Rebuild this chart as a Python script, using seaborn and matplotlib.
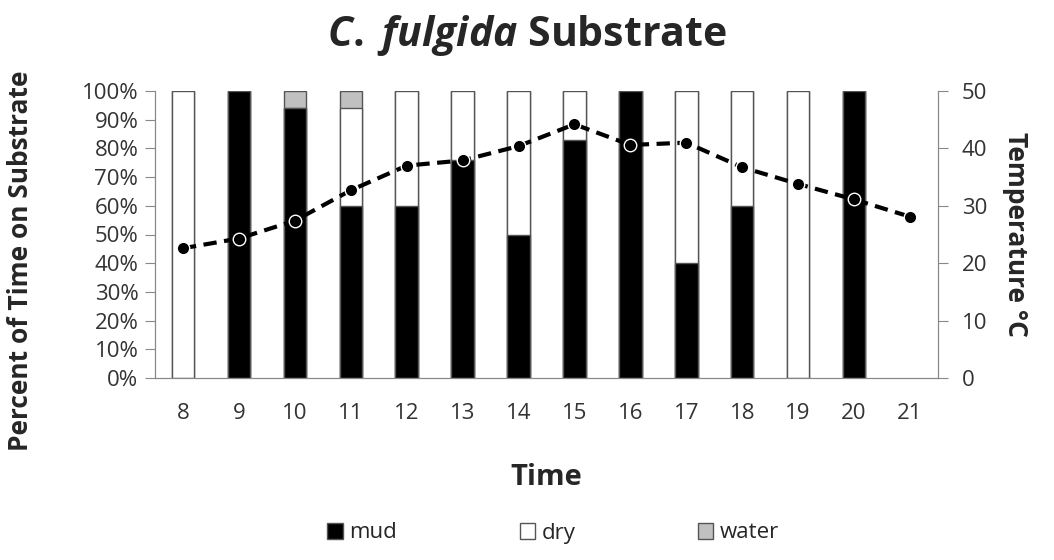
import numpy as np
import pandas as pd
import matplotlib
matplotlib.use("Agg")
import matplotlib.pyplot as plt
from matplotlib.patches import Patch
import seaborn as sns

# data
hours = [8, 9, 10, 11, 12, 13, 14, 15, 16, 17, 18, 19, 20, 21]
mud = [0, 100, 94, 60, 60, 76, 50, 83, 100, 40, 60, 0, 100, 0]
dry = [100, 0, 0, 34, 40, 24, 50, 17, 0, 60, 40, 100, 0, 0]
water = [0, 0, 6, 6, 0, 0, 0, 0, 0, 0, 0, 0, 0, 0]
temp = [22.6, 24.3, 27.4, 32.7, 37.0, 37.9, 40.4, 44.2, 40.6, 41.0, 36.7, 33.8, 31.1, 28.1]

sns.set_style("white")
plt.rcParams['font.family'] = ['Open Sans', 'DejaVu Sans']
plt.rcParams['mathtext.fontset'] = 'custom'
plt.rcParams['mathtext.it'] = 'Open Sans:italic:bold'
plt.rcParams['mathtext.rm'] = 'Open Sans:bold'

df = pd.DataFrame({"hour": [str(h) for h in hours], "mud": mud, "dry": dry, "water": water})
df["top_water"] = df.mud + df.dry + df.water
df["top_dry"] = df.mud + df.dry

fig = plt.figure(figsize=(10.54, 5.6), dpi=100)
ax = fig.add_axes([155/1054, 1-378/560, (938-155)/1054, (378-91)/560])

edge = "#555555"
sns.barplot(data=df, x="hour", y="top_water", color="#c0c0c0", edgecolor=edge, linewidth=1.0,
            width=0.4, saturation=1, ax=ax)
sns.barplot(data=df, x="hour", y="top_dry", color="white", edgecolor=edge, linewidth=1.0,
            width=0.4, saturation=1, ax=ax)
sns.barplot(data=df, x="hour", y="mud", color="black", edgecolor=edge, linewidth=1.0,
            width=0.4, saturation=1, ax=ax)
# hide the empty bars at hour 21
for p in ax.patches:
    if p.get_height() == 0:
        p.set_visible(False)

ax.set_xlim(-0.5, len(hours) - 0.5)
ax.set_ylim(0, 100)
ax.set_yticks(np.arange(0, 101, 10))
ax.set_yticklabels([f"{v}%" for v in range(0, 101, 10)])
ax.set_xticks(np.arange(-0.5, len(hours), 1), minor=True)
ax.tick_params(axis="x", which="major", length=0, pad=18, labelsize=16, labelcolor="#333333")
ax.tick_params(axis="x", which="minor", length=7, color="#888888", direction="out")
ax.tick_params(axis="y", length=7, color="#888888", direction="out", labelsize=16,
               labelcolor="#333333", pad=5)
ax.set_xlabel("Time", fontsize=21, fontweight="bold")
ax.xaxis.set_label_coords(0.5, -(463-378)/287)
ax.set_ylabel("Percent of Time on Substrate", fontsize=19, fontweight="bold")
ax.yaxis.set_label_coords(-(155-34)/783, (378-261)/287)
for s in ["left", "bottom", "right"]:
    ax.spines[s].set_color("#888888")
ax.spines["top"].set_visible(False)

ax2 = ax.twinx()
sns.lineplot(x=np.arange(len(hours)), y=temp, ax=ax2, color="black", lw=3.0,
             linestyle=(0, (3.2, 1.8)), marker="o", markersize=9,
             markerfacecolor="black", markeredgecolor="white", markeredgewidth=1.0)
ax2.set_ylim(0, 50)
ax2.set_yticks(np.arange(0, 51, 10))
ax2.tick_params(axis="y", length=7, color="#888888", direction="out", labelsize=16,
                labelcolor="#333333", pad=10)
ax2.set_ylabel("Temperature °C", fontsize=19, fontweight="bold", rotation=270, labelpad=30)
for s in ["left", "bottom", "right"]:
    ax2.spines[s].set_color("#888888")
ax2.spines["top"].set_visible(False)

fig.text(0.5, 1-35/560, r"$\mathit{C.\;fulgida}$ Substrate", ha="center", va="center",
         fontsize=29.5, fontweight="bold")

handles = [Patch(facecolor="black", edgecolor=edge, label="mud"),
           Patch(facecolor="white", edgecolor=edge, label="dry"),
           Patch(facecolor="#c0c0c0", edgecolor=edge, label="water")]
fig.legend(handles=handles, loc="center", bbox_to_anchor=(0.525, 1-533/560), ncol=3,
           frameon=False, fontsize=16, handlelength=0.7, handleheight=0.7,
           handletextpad=0.3, columnspacing=5.5)

fig.savefig("out.png", dpi=100)
